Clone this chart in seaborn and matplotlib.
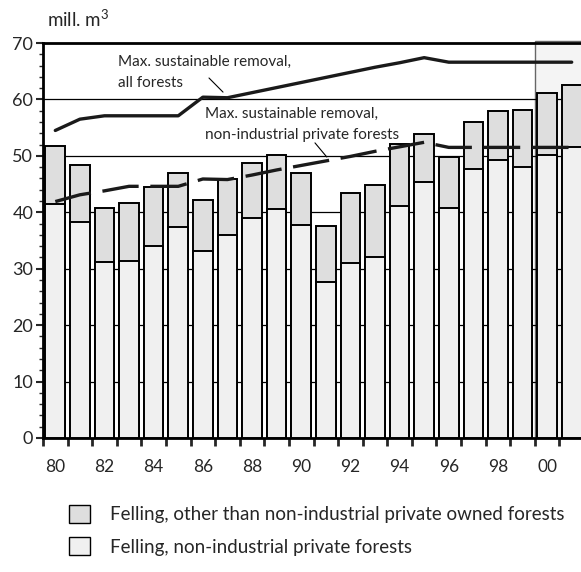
import numpy as np
import pandas as pd
import matplotlib
matplotlib.use("Agg")
import matplotlib.pyplot as plt
import seaborn as sns
from matplotlib.patches import Patch
from matplotlib.ticker import MultipleLocator, FixedLocator

# data (mill. m3)
years = list(range(1980, 2002))
total_felling = [51.8, 48.4, 40.7, 41.7, 44.5, 47.0, 42.1, 45.9, 48.7, 50.1, 47.0,
                 37.5, 43.4, 44.9, 52.1, 53.8, 49.8, 56.0, 57.9, 58.1, 61.1, 62.6]
private_felling = [41.4, 38.2, 31.2, 31.4, 34.1, 37.4, 33.1, 36.0, 39.0, 40.6, 37.8,
                   27.6, 31.1, 32.1, 41.2, 45.3, 40.7, 47.6, 49.2, 48.0, 50.2, 51.6]
max_removal_all = [54.5, 56.5, 57.1, 57.1, 57.1, 57.1, 60.4, 60.3, 61.2, 62.1, 63.0,
                   63.9, 64.8, 65.7, 66.5, 67.4, 66.6, 66.6, 66.6, 66.6, 66.6, 66.6]
max_removal_private = [41.9, 43.1, 43.8, 44.6, 44.6, 44.6, 45.9, 45.8, 46.6, 47.5, 48.3,
                       49.1, 49.9, 50.8, 51.6, 52.4, 51.5, 51.5, 51.5, 51.5, 51.5, 51.5]
tick_labels = ["80", "82", "84", "86", "88", "90", "92", "94", "96", "98", "00"]
legend_labels = ["Felling, other than non-industrial private owned forests",
                 "Felling, non-industrial private forests"]

df = pd.DataFrame({"year": [str(y) for y in years],
                   "total": total_felling,
                   "private": private_felling})
pos = np.arange(len(years))

sns.set_style("white")
plt.rcParams["font.family"] = ["Lato", "DejaVu Sans"]
plt.rcParams["mathtext.fontset"] = "custom"
plt.rcParams["mathtext.rm"] = "Lato"

other_color = "#dedede"
private_color = "#f0f0f0"
line_color = "#1a1a1a"

fig = plt.figure(figsize=(5.81, 5.72), dpi=100)
ax = fig.add_axes([43 / 581, 134 / 572, 541 / 581, 395 / 572])

# shaded forecast block and grid
ax.axvspan(19.5, 21.6, ymin=0, ymax=1.005, facecolor="#f4f4f4", edgecolor="#666666",
           lw=1, zorder=0, clip_on=False)
for g in range(10, 70, 10):
    ax.axhline(g, color="black", lw=0.9, zorder=0.5)

sns.barplot(data=df, x="year", y="total", color=other_color, saturation=1,
            edgecolor="black", linewidth=1.4, width=0.8, ax=ax, zorder=2)
sns.barplot(data=df, x="year", y="private", color=private_color, saturation=1,
            edgecolor="black", linewidth=1.4, width=0.8, ax=ax, zorder=3)

sns.lineplot(x=pos, y=max_removal_all, color=line_color, lw=2.4, ax=ax, zorder=5)
sns.lineplot(x=pos, y=max_removal_private, color=line_color, lw=2.4,
             linestyle=(0, (11, 3.5)), ax=ax, zorder=5)

ax.set_xlim(-0.5, 21.5)
ax.set_ylim(0, 70)
ax.set_xlabel("")
ax.set_ylabel("")

ax.xaxis.set_major_locator(FixedLocator(pos[::2]))
ax.set_xticklabels(tick_labels)
ax.xaxis.set_minor_locator(FixedLocator(np.arange(-0.5, 22, 1)))
ax.yaxis.set_major_locator(MultipleLocator(10))
ax.yaxis.set_minor_locator(MultipleLocator(2))
ax.tick_params(axis="x", which="major", length=0, pad=15, labelsize=12.5)
ax.tick_params(axis="x", which="minor", length=6, width=2, direction="out", bottom=True)
ax.tick_params(axis="y", which="major", length=5, width=1.5, direction="out", left=True,
               labelsize=13, pad=2)
ax.tick_params(axis="y", which="minor", length=3, width=1, direction="out", left=True)

for side in ["left", "bottom", "top"]:
    ax.spines[side].set_linewidth(2)
    ax.spines[side].set_color("black")
ax.spines["right"].set_visible(False)

# annotations
ax.text(2.55, 64.8, "Max. sustainable removal,\nall forests", fontsize=11,
        va="center", ha="left", linespacing=1.65, zorder=6)
ax.plot([6.25, 6.82], [63.8, 61.3], color="black", lw=0.8, zorder=6)
ax.text(6.1, 55.6, "Max. sustainable removal,\nnon-industrial private forests", fontsize=11,
        va="center", ha="left", linespacing=1.65, zorder=6)
ax.plot([10.56, 11.04], [52.3, 49.8], color="black", lw=0.8, zorder=6)

fig.text(47 / 581, 1 - 19 / 572, "mill. m$^3$", fontsize=13.5, va="center", ha="left")

handles = [Patch(facecolor=other_color, edgecolor="black", lw=1),
           Patch(facecolor=private_color, edgecolor="black", lw=1)]
fig.legend(handles, legend_labels, loc="upper left", bbox_to_anchor=(52 / 581, 1 - 488 / 572),
           frameon=False, fontsize=13.5, handlelength=1.1, handleheight=1.1,
           handletextpad=1.1, labelspacing=0.75)

fig.savefig("out.png", dpi=100)
